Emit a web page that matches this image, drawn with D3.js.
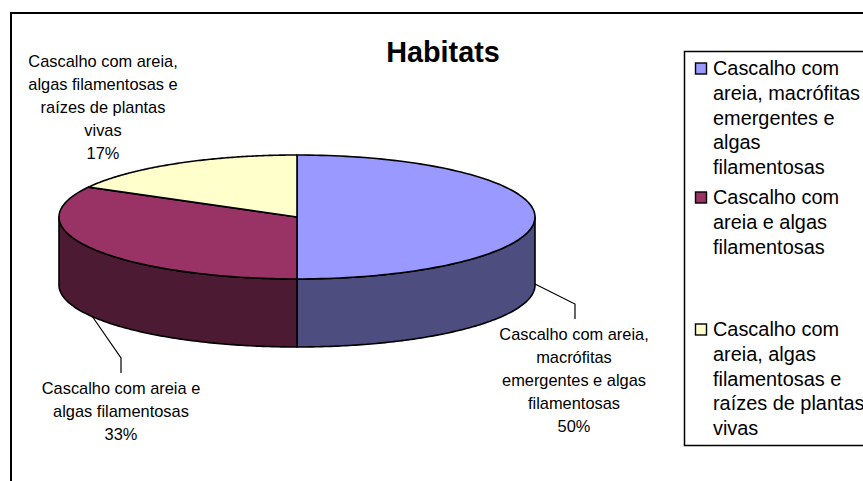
<!DOCTYPE html>
<html>
<head>
<meta charset="utf-8">
<script src="https://cdn.jsdelivr.net/npm/d3@7/dist/d3.min.js"></script>
<style>
html,body{margin:0;padding:0;background:#fff;overflow:hidden}
svg{display:block}
text{font-family:"Liberation Sans",Arial,sans-serif;fill:#000}
</style>
</head>
<body>
<svg id="chart" width="863" height="481"></svg>
<script>
const title = "Habitats";
const shares = [50, 33, 17];
const topColors = ["#9999FF", "#993366", "#FFFFCC"];
const sideColors = ["#4D4D80", "#4D1A33", "#808066"];
const legendLines = [
  ["Cascalho com", "areia, macrófitas", "emergentes e", "algas", "filamentosas"],
  ["Cascalho com", "areia e algas", "filamentosas"],
  ["Cascalho com", "areia, algas", "filamentosas e", "raízes de plantas", "vivas"]
];
const labelLines = [
  ["Cascalho com areia,", "macrófitas", "emergentes e algas", "filamentosas", "50%"],
  ["Cascalho com areia e", "algas filamentosas", "33%"],
  ["Cascalho com areia,", "algas filamentosas e", "raízes de plantas", "vivas", "17%"]
];
const labelAnchors = [[574, 340], [121, 394], [103, 67]];
const leaders = [
  [[535, 284], [575, 304], [575, 319]],
  [[92, 316], [121, 358], [121, 373]],
  null
];
const legendRows = [75, 204, 336];

const svg = d3.select("#chart");

// Chart-area frame: only the top and left edges fall inside the page
svg.append("path")
  .attr("d", "M11,481V13H863")
  .attr("fill", "none").attr("stroke", "#000").attr("stroke-width", 2);

svg.append("text").attr("x", 443).attr("y", 62)
  .attr("text-anchor", "middle").attr("font-weight", "bold")
  .attr("font-size", 28.8).text(title);

// Pie geometry: tilted disc seen in perspective, with a vertical wall
const cx = 297, cy = 217, rx = 238, ry = 62, depth = 68;
const px = d3.scaleLinear().domain([-1, 1]).range([cx - rx, cx + rx]);
const py = d3.scaleLinear().domain([-1, 1]).range([cy - ry, cy + ry]);
const rim = (a, dy = 0) => [px(Math.sin(a)), py(-Math.cos(a)) + dy];
const arcs = d3.pie().sort(null)(shares);
const line = d3.line();
const sweep = (a0, a1) => d3.range(0, 121).map(i => a0 + (a1 - a0) * i / 120);

const pie = svg.append("g").attr("stroke", "#000").attr("stroke-width", 1.6).attr("stroke-linejoin", "round");

// Outer wall: only the part of each slice on the near half is visible
arcs.forEach((d, i) => {
  const a0 = Math.max(d.startAngle, Math.PI / 2);
  const a1 = Math.min(d.endAngle, 3 * Math.PI / 2);
  if (a1 <= a0) return;
  const angles = sweep(a0, a1);
  const pts = angles.map(a => rim(a)).concat(angles.slice().reverse().map(a => rim(a, depth)));
  pie.append("path").attr("d", line(pts) + "Z").attr("fill", sideColors[i]);
});

// Top face of each slice
arcs.forEach((d, i) => {
  const pts = [[cx, cy]].concat(sweep(d.startAngle, d.endAngle).map(a => rim(a)));
  pie.append("path").attr("d", line(pts) + "Z").attr("fill", topColors[i]);
});

// Leader lines
leaders.forEach(l => {
  if (l) svg.append("path").attr("d", line(l)).attr("fill", "none").attr("stroke", "#000").attr("stroke-width", 1.2);
});

// Slice labels
labelLines.forEach((lines, i) => {
  const t = svg.append("text").attr("text-anchor", "middle").attr("font-size", 16.4);
  lines.forEach((s, j) => t.append("tspan")
    .attr("x", labelAnchors[i][0]).attr("y", labelAnchors[i][1] + j * 23).text(s));
});

// Legend
svg.append("rect").attr("x", 684.5).attr("y", 51.5).attr("width", 190).attr("height", 394)
  .attr("fill", "#fff").attr("stroke", "#000").attr("stroke-width", 1.5);
legendLines.forEach((lines, i) => {
  const y = legendRows[i];
  svg.append("rect").attr("x", 695.5).attr("y", y - 12).attr("width", 11).attr("height", 11)
    .attr("fill", topColors[i]).attr("stroke", "#000").attr("stroke-width", 1.4);
  const t = svg.append("text").attr("font-size", 19.9);
  lines.forEach((s, j) => t.append("tspan").attr("x", 713).attr("y", y + j * 24.8).text(s));
});
</script>
</body>
</html>
